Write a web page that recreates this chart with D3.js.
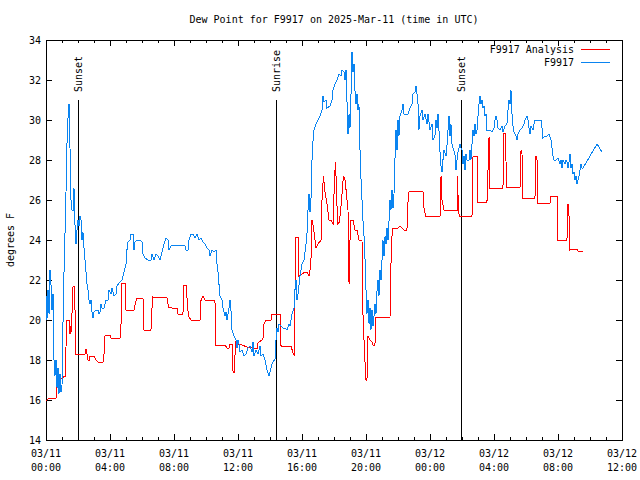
<!DOCTYPE html>
<html><head><meta charset="utf-8">
<script src="https://cdn.jsdelivr.net/npm/d3@7"></script>
<style>
body{margin:0;background:#fff}
svg{display:block}
text{font-family:"DejaVu Sans Mono","Liberation Mono",monospace;font-size:10px;fill:#000}
</style>
</head><body><svg id="c" width="640" height="480"></svg>
<script>
const chartTitle = "Dew Point for F9917 on 2025-Mar-11 (time in UTC)";
const yAxisLabel = "degrees F";
const seriesNames = ["F9917 Analysis", "F9917"];
const seriesColors = ["#ff0000", "#0a84f0"];
const xTickHours = [0, 4, 8, 12, 16, 20, 24, 28, 32, 36];
const xTickDates = ["03/11","03/11","03/11","03/11","03/11","03/11","03/12","03/12","03/12","03/12"];
const xTickTimes = ["00:00","04:00","08:00","12:00","16:00","20:00","00:00","04:00","08:00","12:00"];
const yTicks = [14, 16, 18, 20, 22, 24, 26, 28, 30, 32, 34];
const sunLabels = ["Sunset", "Sunrise", "Sunset"];
const sunHours = [1.98, 14.36, 25.96];

// hours since 03/11 00:00 UTC, dew point (F)
const analysisSeries = [[0,15.95],[0.19,16.1],[0.625,16.1],[0.66,17.25],[0.875,17.2],[0.94,17.1],[1.06,17.1],[1.125,17.2],[1.19,17.2],[1.25,18.65],[1.31,20.0],[1.44,20.0],[1.5,19.3],[1.56,19.7],[1.6,19.4],[1.66,21.6],[1.72,21.7],[1.78,21.7],[1.875,18.3],[2.44,18.3],[2.5,18.55],[2.56,18.3],[2.625,18.0],[2.69,17.95],[2.75,18.2],[3.0,18.2],[3.125,18.0],[3.25,17.9],[3.56,17.9],[3.625,18.3],[3.69,19.25],[4.0,19.25],[4.06,19.1],[4.625,19.1],[4.69,19.8],[4.75,21.85],[4.94,21.85],[5.0,20.5],[5.5,20.5],[5.6,20.9],[5.69,21.1],[6.06,21.1],[6.125,19.5],[6.56,19.5],[6.66,21.15],[7.56,21.1],[7.66,20.65],[7.875,20.6],[8.19,20.6],[8.25,20.3],[8.56,20.3],[8.625,21.75],[8.78,21.75],[8.84,20.6],[8.94,20.15],[9.06,20.0],[9.625,20.0],[9.69,21.0],[9.81,21.2],[9.94,21.0],[10.56,21.0],[10.625,18.75],[11.19,18.75],[11.31,18.6],[11.44,18.6],[11.5,18.8],[11.625,18.8],[11.69,17.4],[11.78,17.4],[11.84,18.9],[12.0,18.8],[12.25,18.75],[12.56,18.65],[12.875,18.6],[13.19,18.55],[13.25,18.85],[13.56,19.05],[13.625,19.8],[13.75,20.0],[14.06,20.0],[14.125,20.3],[14.625,20.3],[14.69,18.7],[15.31,18.7],[15.44,18.35],[15.53,18.25],[15.59,24.15],[15.75,24.15],[15.81,22.2],[16.19,22.4],[16.31,22.4],[16.44,22.2],[16.5,22.5],[16.56,23.0],[16.625,25.0],[16.72,24.6],[16.81,24.0],[16.875,23.6],[17.0,23.8],[17.19,24.0],[17.25,26.0],[17.34,27.2],[17.44,26.4],[17.56,25.8],[17.69,25.0],[17.81,25.0],[17.94,24.8],[18.03,27.0],[18.09,27.9],[18.16,26.5],[18.22,24.8],[18.34,24.9],[18.44,25.7],[18.53,26.6],[18.59,27.2],[18.69,27.0],[18.78,26.3],[18.875,25.5],[18.94,21.8],[19.0,24.0],[19.06,25.0],[19.19,25.0],[19.31,24.5],[19.44,24.5],[19.56,24.0],[19.75,24.0],[19.81,20.3],[19.91,18.3],[20.0,17.0],[20.06,17.0],[20.125,19.2],[20.25,19.0],[20.375,18.9],[20.44,18.75],[20.56,18.75],[20.625,20.15],[21.5,20.15],[21.59,24.0],[21.69,24.6],[22.0,24.6],[22.125,24.7],[22.25,24.6],[22.375,24.5],[22.56,24.5],[22.59,25.4],[22.66,26.4],[23.56,26.45],[23.625,25.6],[23.72,25.2],[24.625,25.2],[24.69,27.2],[24.75,26.0],[24.875,25.5],[25.69,25.5],[25.72,27.2],[25.78,25.4],[25.84,25.2],[26.625,25.2],[26.69,28.2],[26.94,28.2],[27.0,25.9],[27.56,25.9],[27.625,27.5],[27.69,29.15],[27.75,26.6],[28.56,26.6],[28.625,29.35],[28.72,29.3],[28.78,26.65],[29.625,26.65],[29.69,28.5],[29.75,28.3],[29.81,26.1],[30.56,26.1],[30.625,28.2],[30.69,28.0],[30.75,25.85],[31.5,25.85],[31.56,26.2],[31.94,26.2],[32.0,24.0],[32.56,24.0],[32.625,25.8],[32.69,25.2],[32.75,23.5],[33.19,23.55],[33.25,23.45],[33.56,23.45]];

const obsSeries = [[0,21.2],[0.06,20.0],[0.125,21.5],[0.19,20.3],[0.25,22.5],[0.31,21.8],[0.375,20.5],[0.44,21.3],[0.5,18.0],[0.56,17.2],[0.625,18.0],[0.69,16.6],[0.75,17.6],[0.81,16.3],[0.875,17.3],[0.94,16.4],[1.0,16.7],[1.03,18.5],[1.09,21.0],[1.16,23.8],[1.22,25.0],[1.25,26.4],[1.31,28.8],[1.375,30.1],[1.44,30.8],[1.5,28.6],[1.56,26.0],[1.625,25.5],[1.69,25.5],[1.75,26.6],[1.81,24.8],[1.875,23.8],[1.94,24.5],[2.0,25.0],[2.06,24.7],[2.125,25.2],[2.19,25.0],[2.25,24.0],[2.31,24.4],[2.375,23.6],[2.44,23.0],[2.5,22.4],[2.56,21.8],[2.625,21.5],[2.69,21.0],[2.75,20.8],[2.81,21.0],[2.875,20.4],[2.94,20.1],[3.0,20.4],[3.125,20.5],[3.25,20.5],[3.31,20.3],[3.375,20.4],[3.44,20.8],[3.5,20.6],[3.625,20.6],[3.75,21.0],[3.875,21.0],[3.94,21.5],[4.06,21.3],[4.125,21.6],[4.25,21.2],[4.375,21.3],[4.44,21.7],[4.625,21.9],[4.75,22.0],[4.875,22.4],[5.0,22.8],[5.06,23.5],[5.125,23.9],[5.25,24.0],[5.31,24.3],[5.44,24.3],[5.5,23.5],[5.56,23.9],[5.69,24.0],[5.875,24.0],[6.0,23.9],[6.06,23.3],[6.19,23.1],[6.375,23.0],[6.56,23.0],[6.625,23.3],[6.75,23.0],[6.875,23.3],[7.0,23.2],[7.125,23.0],[7.25,23.4],[7.375,23.8],[7.5,24.1],[7.625,24.0],[7.69,23.5],[7.81,23.7],[8.0,23.75],[8.375,23.75],[8.69,23.7],[8.75,23.5],[8.875,23.5],[8.94,24.0],[9.06,24.3],[9.19,24.3],[9.31,24.1],[9.44,24.3],[9.56,24.0],[9.69,24.1],[9.81,23.9],[9.94,23.8],[10.06,23.6],[10.19,23.5],[10.25,23.2],[10.375,23.5],[10.5,23.4],[10.625,23.5],[10.69,22.8],[10.75,22.4],[10.81,21.8],[10.875,21.2],[11.0,21.0],[11.06,20.6],[11.19,20.2],[11.25,20.4],[11.31,20.0],[11.44,20.6],[11.5,21.0],[11.56,20.5],[11.625,19.5],[11.75,19.2],[11.875,19.0],[11.94,18.6],[12.0,19.0],[12.06,18.8],[12.125,18.4],[12.25,18.5],[12.375,18.2],[12.5,18.3],[12.625,18.6],[12.75,18.7],[12.875,18.4],[12.94,18.9],[13.0,18.2],[13.125,18.5],[13.25,18.3],[13.375,18.7],[13.44,18.2],[13.56,18.3],[13.69,18.0],[13.81,17.5],[13.94,17.2],[14.0,17.4],[14.125,17.8],[14.25,18.0],[14.31,18.0],[14.375,19.0],[14.44,19.6],[14.5,19.4],[14.56,19.8],[14.69,19.7],[14.81,19.6],[14.94,19.6],[15.06,19.5],[15.19,19.8],[15.25,19.7],[15.375,20.3],[15.5,20.6],[15.56,21.5],[15.625,22.0],[15.69,21.0],[15.75,21.3],[15.875,22.2],[16.0,22.8],[16.125,23.0],[16.25,23.8],[16.31,24.3],[16.375,25.5],[16.44,26.3],[16.5,25.4],[16.56,26.0],[16.625,28.0],[16.69,29.0],[16.75,29.5],[16.875,29.8],[17.0,30.0],[17.125,30.2],[17.25,30.5],[17.31,31.2],[17.375,30.9],[17.5,31.0],[17.56,30.6],[17.75,30.7],[17.875,31.0],[17.94,31.5],[18.06,31.8],[18.19,32.0],[18.31,32.3],[18.44,32.2],[18.5,32.5],[18.625,32.4],[18.69,32.0],[18.75,32.5],[18.81,31.0],[18.875,29.3],[18.94,30.3],[19.0,29.6],[19.06,31.2],[19.125,33.4],[19.19,32.4],[19.25,32.8],[19.31,31.5],[19.375,30.8],[19.44,31.3],[19.5,30.5],[19.56,30.8],[19.625,28.5],[19.69,27.0],[19.75,26.0],[19.81,25.0],[19.875,24.2],[19.94,23.0],[20.0,21.5],[20.06,20.3],[20.125,21.0],[20.19,19.8],[20.25,20.6],[20.31,19.5],[20.375,20.5],[20.44,19.7],[20.5,20.2],[20.56,20.8],[20.625,20.3],[20.69,21.5],[20.75,22.0],[20.81,21.2],[20.875,22.5],[20.94,22.0],[21.0,23.0],[21.06,24.0],[21.125,23.2],[21.19,24.2],[21.25,23.8],[21.31,24.6],[21.375,24.0],[21.44,25.0],[21.5,26.0],[21.56,25.5],[21.625,26.5],[21.69,25.6],[21.75,26.3],[21.81,28.0],[21.875,29.5],[21.94,28.5],[22.0,30.0],[22.06,29.2],[22.125,30.2],[22.25,30.5],[22.31,30.8],[22.375,30.3],[22.5,30.3],[22.625,30.3],[22.75,30.6],[22.875,30.8],[22.94,31.3],[23.06,31.4],[23.125,31.7],[23.19,31.3],[23.25,30.8],[23.31,29.5],[23.375,30.2],[23.5,30.5],[23.56,30.0],[23.69,30.3],[23.81,29.8],[23.875,30.3],[24.0,29.5],[24.125,29.8],[24.19,29.0],[24.31,29.2],[24.375,30.0],[24.44,29.6],[24.5,30.3],[24.56,29.5],[24.625,28.4],[24.69,27.7],[24.75,27.4],[24.81,28.0],[24.875,28.5],[25.0,28.2],[25.06,28.7],[25.125,29.5],[25.19,30.2],[25.25,29.2],[25.31,29.8],[25.375,28.8],[25.44,28.6],[25.56,28.3],[25.625,27.5],[25.69,28.0],[25.75,28.4],[25.81,28.6],[25.875,28.8],[25.94,28.6],[26.0,28.5],[26.06,27.8],[26.125,28.2],[26.19,27.5],[26.25,28.3],[26.31,28.0],[26.44,28.0],[26.5,28.5],[26.56,28.0],[26.625,28.8],[26.69,29.5],[26.75,29.2],[26.81,29.8],[26.875,29.3],[26.94,29.5],[27.0,30.2],[27.06,30.8],[27.125,31.2],[27.19,30.8],[27.25,31.0],[27.31,30.6],[27.375,30.7],[27.44,30.2],[27.5,30.3],[27.56,29.5],[27.75,29.5],[27.875,29.4],[28.0,29.6],[28.06,30.0],[28.125,30.2],[28.19,30.0],[28.25,29.6],[28.375,29.5],[28.5,29.7],[28.56,29.4],[28.69,29.7],[28.81,29.8],[28.875,30.5],[28.94,31.0],[29.0,30.8],[29.06,31.5],[29.125,30.3],[29.19,29.7],[29.25,29.4],[29.375,29.2],[29.44,29.0],[29.5,29.3],[29.625,29.5],[29.75,29.6],[29.875,29.8],[29.94,30.0],[30.06,30.2],[30.125,30.0],[30.19,29.6],[30.25,29.3],[30.31,29.7],[30.44,29.5],[30.5,29.8],[30.56,30.0],[30.69,30.0],[30.81,30.0],[30.94,30.0],[31.0,29.6],[31.06,29.1],[31.19,29.2],[31.31,29.2],[31.44,29.3],[31.56,29.0],[31.625,28.6],[31.69,28.2],[31.75,28.0],[31.875,28.0],[32.0,28.1],[32.125,27.8],[32.19,28.0],[32.25,27.6],[32.31,28.0],[32.44,27.8],[32.5,28.0],[32.56,27.9],[32.625,27.6],[32.69,27.9],[32.75,28.3],[32.81,27.6],[32.875,27.8],[32.94,27.3],[33.0,27.4],[33.06,27.0],[33.125,27.2],[33.19,26.8],[33.25,27.0],[33.31,27.2],[33.375,27.5],[33.44,27.8],[33.5,27.6],[33.56,27.6],[34.44,28.8],[34.75,28.4]];

const W = 640, H = 480;
const m = {left: 46, right: 622, top: 40, bottom: 440};
const svg = d3.select("#c");

const x = d3.scaleLinear().domain([0, 36]).range([m.left, m.right]);
const y = d3.scaleLinear().domain([14, 34]).range([m.bottom, m.top]);

// title
svg.append("text").attr("x", (m.left + m.right) / 2).attr("y", 23)
  .attr("text-anchor", "middle").text(chartTitle);
// y label
svg.append("text").attr("transform", `translate(14,${(m.top + m.bottom) / 2}) rotate(-90)`)
  .attr("text-anchor", "middle").text(yAxisLabel);

const minorHours = d3.range(0, 37, 1);
const axG = svg.append("g").attr("shape-rendering", "crispEdges");
function tickAxis(axis, tx, ty) {
  const g = axG.append("g").attr("transform", `translate(${tx},${ty})`).call(axis);
  g.select(".domain").remove();
  g.selectAll("text").remove();
  g.selectAll("line").attr("stroke", "#000");
  return g;
}
// x ticks (major + minor, bottom and top, inward)
tickAxis(d3.axisBottom(x).tickValues(minorHours).tickSize(-3).tickSizeOuter(0), 0, m.bottom);
tickAxis(d3.axisBottom(x).tickValues(xTickHours).tickSize(-6).tickSizeOuter(0), 0, m.bottom);
tickAxis(d3.axisTop(x).tickValues(minorHours).tickSize(-3).tickSizeOuter(0), 0, m.top);
tickAxis(d3.axisTop(x).tickValues(xTickHours).tickSize(-6).tickSizeOuter(0), 0, m.top);
// y ticks
tickAxis(d3.axisLeft(y).tickValues(yTicks).tickSize(-6).tickSizeOuter(0), m.left, 0);
tickAxis(d3.axisRight(y).tickValues(yTicks).tickSize(-6).tickSizeOuter(0), m.right, 0);

// x labels
const xl = svg.append("g").selectAll("g").data(xTickHours).join("g")
  .attr("transform", d => `translate(${x(d)},0)`);
xl.append("text").attr("y", 457).attr("text-anchor", "middle").text((d, i) => xTickDates[i]);
xl.append("text").attr("y", 471).attr("text-anchor", "middle").text((d, i) => xTickTimes[i]);
// y labels
svg.append("g").selectAll("text").data(yTicks).join("text")
  .attr("x", 41).attr("y", d => y(d) + 4).attr("text-anchor", "end").text(d => d);

// sunrise / sunset markers
const sg = svg.append("g");
sg.selectAll("line").data(sunHours).join("line")
  .attr("x1", d => Math.round(x(d)) + 0.5).attr("x2", d => Math.round(x(d)) + 0.5)
  .attr("y1", 100).attr("y2", m.bottom).attr("stroke", "#000").attr("stroke-width", 1)
  .attr("shape-rendering", "crispEdges");
sg.selectAll("text").data(sunHours).join("text")
  .attr("transform", d => `translate(${Math.round(x(d)) + 4},92) rotate(-90)`)
  .attr("text-anchor", "start").text((d, i) => sunLabels[i]);

// data lines
const line = d3.line().x(d => x(d[0])).y(d => y(d[1]));
const series = [analysisSeries, obsSeries];
svg.append("g").selectAll("path").data(series).join("path")
  .attr("d", line).attr("fill", "none")
  .attr("stroke", (d, i) => seriesColors[i]).attr("stroke-width", 1)
  .attr("shape-rendering", "crispEdges");

// border
axG.append("rect").attr("x", m.left + 0.5).attr("y", m.top + 0.5)
  .attr("width", m.right - m.left).attr("height", m.bottom - m.top)
  .attr("fill", "none").attr("stroke", "#000");

// legend
const lg = svg.append("g").selectAll("g").data(seriesNames).join("g")
  .attr("transform", (d, i) => `translate(0,${49 + i * 13})`);
lg.append("text").attr("x", 574).attr("y", 4).attr("text-anchor", "end").text(d => d);
lg.append("line").attr("x1", 581).attr("x2", 610).attr("y1", 0.5).attr("y2", 0.5)
  .attr("stroke", (d, i) => seriesColors[i]).attr("shape-rendering", "crispEdges");
</script>
</body></html>
